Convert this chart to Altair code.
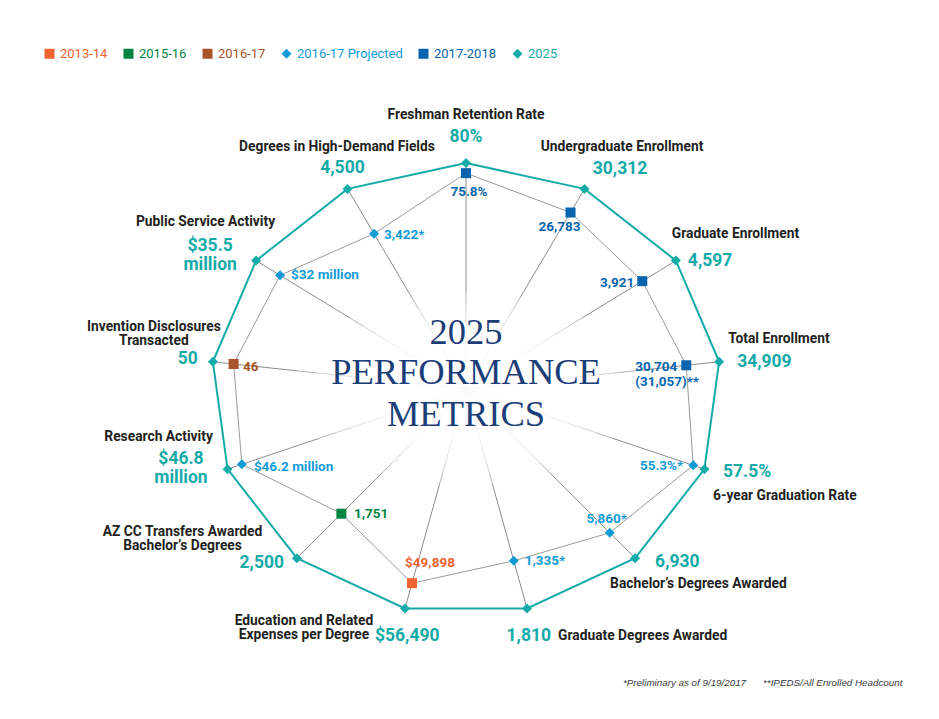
import math
import altair as alt
import pandas as pd

# ---------------- data ----------------
axis_names = [
    ["Freshman Retention Rate"],
    ["Undergraduate Enrollment"],
    ["Graduate Enrollment"],
    ["Total Enrollment"],
    ["6-year Graduation Rate"],
    ["Bachelor’s Degrees Awarded"],
    ["Graduate Degrees Awarded"],
    ["Education and Related", "Expenses per Degree"],
    ["AZ CC Transfers Awarded", "Bachelor’s Degrees"],
    ["Research Activity"],
    ["Invention Disclosures", "Transacted"],
    ["Public Service Activity"],
    ["Degrees in High-Demand Fields"],
]
target_labels = [["80%"], ["30,312"], ["4,597"], ["34,909"], ["57.5%"], ["6,930"],
                 ["1,810"], ["$56,490"], ["2,500"], ["$46.8", "million"], ["50"],
                 ["$35.5", "million"], ["4,500"]]
target_radius = [1.0] * 13  # 2025 goals form the outer ring
inner_labels = [["75.8%"], ["26,783"], ["3,921"], ["30,704", "(31,057)**"], ["55.3%*"],
                ["5,860*"], ["1,335*"], ["$49,898"], ["1,751"], ["$46.2 million"], ["46"],
                ["$32 million"], ["3,422*"]]
inner_series = ["2017-2018", "2017-2018", "2017-2018", "2017-2018",
                "2016-17 Projected", "2016-17 Projected", "2016-17 Projected",
                "2013-14", "2015-16", "2016-17 Projected", "2016-17",
                "2016-17 Projected", "2016-17 Projected"]
inner_radius = [0.955, 0.882, 0.84, 0.87, 0.953, 0.85, 0.783, 0.885, 0.737,
                0.94, 0.918, 0.886, 0.776]
series_names = ["2013-14", "2015-16", "2016-17", "2016-17 Projected", "2017-2018", "2025"]
series_colors = ["#ef6331", "#00843f", "#a9532b", "#139bd8", "#0864ad", "#14aaa7"]
series_shapes = ["square", "square", "square", "diamond", "square", "diamond"]
series_sizes = [100, 100, 100, 190, 100, 190]

# ---------------- layout (pixel offsets of labels from their point) ----------------
name_offsets = [(0, -48, "center"), (37.5, -42, "center"), (-4, -26.6, "left"),
                (9, -22.8, "left"), (8.6, 27, "left"), (-25, 26, "left"),
                (31, 27.6, "left"), (-101, 12.3, "center"), (-114.4, -26.2, "center"),
                (-69, -32, "center"), (-59, -35, "center"), (-50.6, -38.6, "center"),
                (-10.5, -42, "center")]
value_offsets = [(0, -26, "center"), (35.5, -20, "center"), (12, 0.4, "left"),
                 (18, 0, "left"), (18.6, 3, "left"), (20, 4, "left"),
                 (24, 27.6, "right"), (-30, 27.6, "left"), (-12.9, 4.8, "right"),
                 (-46.6, -10, "center"), (-15, -3, "right"), (-46, -14.6, "center"),
                 (-5, -21, "center")]
inner_offsets = [(3, 19, "center"), (-11, 14.5, "center"), (-8, 2, "right"),
                 (-51, 1.5, "left"), (-10, 1, "right"), (-3, -14, "center"),
                 (11, 0, "left"), (18, -20, "center"), (12.6, 0, "left"),
                 (12, 3, "left"), (9.5, 3, "left"), (11, 0, "left"), (10, 1, "left")]

W, H = 923, 703
PX, PY = 255.0, 226.0          # pixels per unit radius (horizontal / vertical)
CX, CY = 458.0, 381.0          # centre of the radar inside the plot area
xs = alt.Scale(domain=[-CX / PX, (W - CX) / PX], range=[0, W], nice=False, zero=False)
ys = alt.Scale(domain=[-(H - CY) / PY, CY / PY], range=[H, 0], nice=False, zero=False)
N = len(axis_names)
color_of = dict(zip(series_names, series_colors))


def pos(r, i):
    t = 2 * math.pi * i / N
    return r * math.sin(t), r * math.cos(t)


# spokes
spokes = pd.DataFrame([{"x": 0.0, "y": 0.0, "x2": pos(1, i)[0], "y2": pos(1, i)[1]} for i in range(N)])

# polygons and points
outer_rows, inner_rows, point_rows = [], [], []
for k in range(N + 1):
    i = k % N
    ox, oy = pos(target_radius[i], i)
    ix, iy = pos(inner_radius[i], i)
    outer_rows.append({"x": ox, "y": oy, "o": k})
    inner_rows.append({"x": ix, "y": iy, "o": k})
for i in range(N):
    ox, oy = pos(target_radius[i], i)
    ix, iy = pos(inner_radius[i], i)
    point_rows.append({"x": ix, "y": iy, "series": inner_series[i], "o": 0})
    point_rows.append({"x": ox, "y": oy, "series": "2025", "o": 1})
outer = pd.DataFrame(outer_rows)
inner = pd.DataFrame(inner_rows)
points = pd.DataFrame(point_rows)

# labels
label_rows = []
for i in range(N):
    ox, oy = pos(target_radius[i], i)
    ix, iy = pos(inner_radius[i], i)
    specs = [
        ("name", axis_names[i], name_offsets[i], 14.5, "#231f20", ox, oy),
        ("value", target_labels[i], value_offsets[i], 18.5, color_of["2025"], ox, oy),
        ("inner", inner_labels[i], inner_offsets[i], 15.5, color_of[inner_series[i]], ix, iy),
    ]
    for kind, lines, (dx, dy, al), lh, col, bx, by in specs:
        for j, line in enumerate(lines):
            label_rows.append({"x": bx + dx / PX, "y": by - (dy + j * lh) / PY,
                               "label": line, "kind": kind, "anchor": al, "col": col})
labels = pd.DataFrame(label_rows)

X = alt.X("x:Q", scale=xs, axis=None)
Y = alt.Y("y:Q", scale=ys, axis=None)

layers = []
layers.append(alt.Chart(spokes).mark_rule(color="#8d8d8d", strokeWidth=1).encode(
    x=X, y=Y, x2="x2:Q", y2="y2:Q"))

# soft white glow behind the title
ellipse = "M-1,0A1,0.56,0,1,0,1,0A1,0.56,0,1,0,-1,0Z"
center_df = pd.DataFrame([{"x": 0.0, "y": 0.0}])
for a in [172, 152, 134, 117, 100, 82]:
    layers.append(alt.Chart(center_df).mark_point(
        shape=ellipse, filled=True, color="white", opacity=0.37, size=4 * a * a, strokeWidth=0
    ).encode(x=X, y=Y))

layers.append(alt.Chart(inner).mark_line(color="#9b9b9b", strokeWidth=1).encode(x=X, y=Y, order="o:Q"))
layers.append(alt.Chart(outer).mark_line(color=color_of["2025"], strokeWidth=2).encode(x=X, y=Y, order="o:Q"))

label_color_expr = " : ".join(
    f"datum.value === '{n}' ? '{c}'" for n, c in zip(series_names[:-1], series_colors[:-1])
) + f" : '{series_colors[-1]}'"
leg = alt.Legend(title=None, orient="none", legendX=35, legendY=39, direction="horizontal",
                 labelFont="Roboto", labelFontSize=13, labelColor=alt.ExprRef(label_color_expr),
                 columnPadding=14, labelOffset=4, padding=0, symbolStrokeWidth=0)
layers.append(alt.Chart(points).mark_point(filled=True, opacity=1, strokeWidth=0).encode(
    x=X, y=Y,
    color=alt.Color("series:N", scale=alt.Scale(domain=series_names, range=series_colors), legend=leg),
    shape=alt.Shape("series:N", scale=alt.Scale(domain=series_names, range=series_shapes), legend=leg),
    size=alt.Size("series:N", scale=alt.Scale(domain=series_names, range=series_sizes), legend=leg),
    order="o:Q",
))

styles = {
    "name": dict(font="Roboto", fontSize=13.8, fontWeight="bold"),
    "value": dict(font="Roboto", fontSize=17.5, fontWeight="bold"),
    "inner": dict(font="Roboto", fontSize=13.5, fontWeight="bold"),
}
for kind, st in styles.items():
    for al in ["left", "center", "right"]:
        sub = labels[(labels["kind"] == kind) & (labels["anchor"] == al)].reset_index(drop=True)
        if len(sub) == 0:
            continue
        layers.append(alt.Chart(sub).mark_text(align=al, baseline="middle", **st).encode(
            x=X, y=Y, text="label:N", fill=alt.Fill("col:N", scale=None)))

title_lines = ["2025", "PERFORMANCE", "METRICS"]
for line, dy in zip(title_lines, [-56, -16, 25.5]):
    layers.append(alt.Chart(center_df).mark_text(
        text=line, font="Liberation Serif", fontSize=36.5, color="#1c3e78",
        align="center", baseline="middle", dy=dy
    ).encode(x=X, y=Y))

footnotes = ["*Preliminary as of 9/19/2017", "**IPEDS/All Enrolled Headcount"]
for note, fx in zip(footnotes, [615, 755]):
    layers.append(alt.Chart(center_df).mark_text(
        text=note, font="Liberation Sans", fontSize=9.8, fontStyle="italic", color="#3a3a3a",
        align="left", baseline="middle"
    ).encode(x=alt.value(fx), y=alt.value(675)))

chart = alt.layer(*layers).properties(
    width=W, height=H, autosize=alt.AutoSizeParams(type="none"), padding=0
).configure_view(stroke=None)

chart.save("out.html", embed_options={"renderer": "svg", "actions": False})
